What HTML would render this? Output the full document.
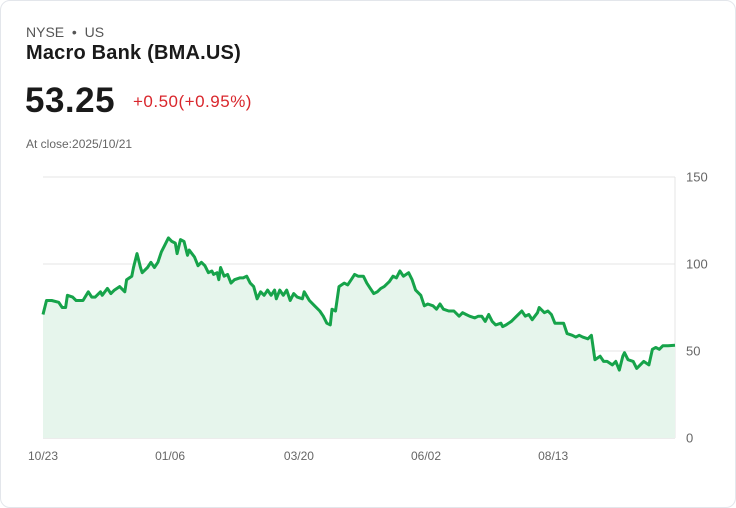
<!DOCTYPE html>
<html><head><meta charset="utf-8"><style>
body{margin:0;background:#fff;font-family:"Liberation Sans",sans-serif;}
.card{position:absolute;left:0;top:0;width:734px;height:506px;border:1px solid #e3e6eb;border-radius:10px;background:#fff;}
.t{position:absolute;white-space:nowrap;}
</style></head><body>
<div class="card">
<div class="t" style="left:25px;top:23px;font-size:14px;color:#555;">NYSE &nbsp;•&nbsp; US</div>
<div class="t" style="left:25px;top:41px;font-size:20px;font-weight:bold;color:#1a1a1a;letter-spacing:0.2px;">Macro Bank (BMA.US)</div>
<div class="t" style="left:24px;top:80px;font-size:35px;font-weight:bold;color:#1a1a1a;letter-spacing:0.5px;">53.25</div>
<div class="t" style="left:132px;top:91px;font-size:17px;color:#d9262c;letter-spacing:0.5px;">+0.50(+0.95%)</div>
<div class="t" style="left:25px;top:136px;font-size:12px;color:#666;">At close:2025/10/21</div>
<svg id="chart" width="736" height="508" style="position:absolute;left:-1px;top:-1px;"></svg>
</div>
<script>
const yTicks=[0,50,100,150];
const xLabels=["10/23","01/06","03/20","06/02","08/13"];
const xLabelDays=[0,73,147,220,293];
const totalDays=363;
const days=[0,2,5,9,11,13,14,17,19,21,23,26,28,30,33,34,37,39,41,44,47,48,51,52,54,56,57,60,62,64,66,68,70,72,74,76,77,79,81,83,84,87,89,91,93,95,97,98,100,101,102,104,106,108,110,113,115,117,119,121,123,125,127,129,131,133,134,136,138,140,142,144,146,149,150,153,156,159,161,163,165,166,168,170,173,175,177,179,181,184,186,188,190,192,194,196,199,201,203,205,207,210,212,214,217,219,221,224,226,228,230,233,236,239,241,243,245,248,250,252,254,256,258,260,263,264,266,269,271,273,275,277,279,281,284,285,288,290,292,294,297,299,301,304,306,308,310,313,315,317,320,322,324,327,329,331,333,334,336,339,341,343,345,348,350,352,354,356,359,361,362,363];
const prices=[71,79,79,78,75,75,82,81,79,79,79,84,81,81,84,82,86,83,85,87,84,91,93,98,106,98,95,98,101,98,101,107,111,115,113,112,106,114,113,105,108,104,99,101,99,95,96,94,95,91,98,93,94,89,91,92,92,93,89,87,80,84,82,85,82,85,80,85,82,85,79,83,81,80,84,79,76,73,70,66,65,74,73,87,89,88,91,94,93,93,89,86,83,84,86,87,90,93,92,96,93,95,91,85,82,76,77,76,74,77,74,73,73,70,72,71,70,69,70,70,67,71,67,65,66,64,65,67,69,71,73,70,71,68,72,75,72,73,71,66,66,66,60,59,58,59,58,57,59,45,47,44,44,42,44,39,47,49,45,44,40,42,44,42,51,52,51,53,53,53.25];
const svg=document.getElementById('chart');
const NS='http://www.w3.org/2000/svg';
const x0=43,x1=675,yTop=177,yBot=438;
const xd=d=>x0+(x1-x0)*d/totalDays;
const xs=i=>xd(i===prices.length-1?totalDays:(i<days.length?days[i]:totalDays*i/(prices.length-1)));
const ys=v=>yBot-(yBot-yTop)*v/150;
function mk(t,a){const e=document.createElementNS(NS,t);for(const k in a)e.setAttribute(k,a[k]);svg.appendChild(e);return e;}
yTicks.forEach(v=>{
 const l=mk('line',{x1:x0,x2:x1,y1:ys(v),y2:ys(v),stroke:v===0?'#d8d8d8':'#e4e4e4','stroke-width':1});
 
 
 const t=mk('text',{x:686,y:ys(v)+4.5,'font-size':13,fill:'#666','font-family':'Liberation Sans, sans-serif'});
 t.textContent=v;
 
 
});
const ax=mk('line',{x1:x1,x2:x1,y1:yTop,y2:yBot,stroke:'#e4e4e4'});


xLabels.forEach((s,k)=>{
 const t=mk('text',{x:xd(xLabelDays[k]),y:460,'font-size':12,fill:'#666','text-anchor':'middle','font-family':'Liberation Sans, sans-serif'});
 t.textContent=s;
 
 
});
let d=prices.map((v,i)=>(i?'L':'M')+xs(i).toFixed(1)+','+ys(v).toFixed(1)).join('');
const area=mk('path',{d:d+`L${x1},${yBot}L${x0},${yBot}Z`,fill:'#e6f5ec'});


const line=mk('path',{d:d,fill:'none',stroke:'#16a34a','stroke-width':3,'stroke-linejoin':'round'});


</script>
</body></html>
